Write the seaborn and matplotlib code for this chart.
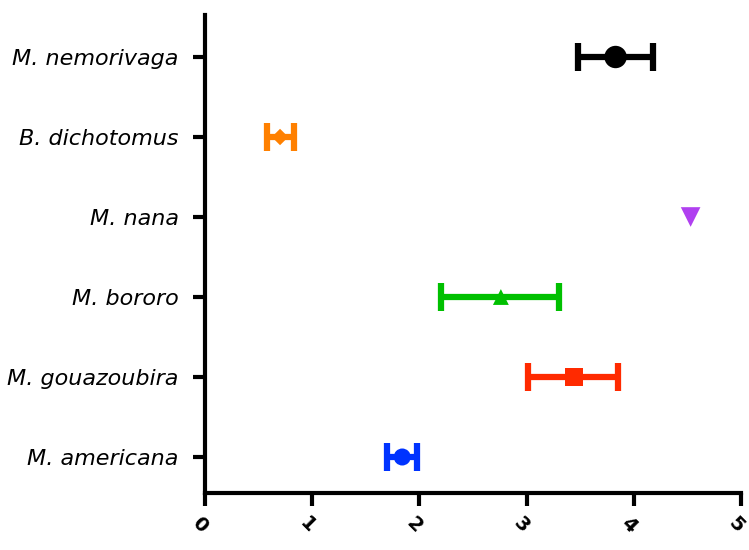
import matplotlib
matplotlib.use("Agg")
import matplotlib.pyplot as plt
import matplotlib.transforms as mtransforms
import seaborn as sns
import pandas as pd
import numpy as np

species = ["M. nemorivaga", "B. dichotomus", "M. nana", "M. bororo",
           "M. gouazoubira", "M. americana"]
means = [3.83, 0.70, 4.53, 2.76, 3.44, 1.84]
lower = [3.48, 0.58, 4.53, 2.20, 3.01, 1.70]
upper = [4.18, 0.83, 4.53, 3.30, 3.85, 1.98]
colors = ["#000000", "#FF8000", "#B040F0", "#00C000", "#FF2A00", "#0033FF"]
markers = ["o", "D", "v", "^", "s", "o"]
msizes = [260, 70, 200, 130, 170, 150]
x_ticks = [0, 1, 2, 3, 4, 5]

df = pd.DataFrame({"species": species, "mean": means,
                   "lower": lower, "upper": upper})

sns.set_style("ticks", {"axes.edgecolor": "black", "xtick.color": "black",
                        "ytick.color": "black", "text.color": "black"})
plt.rcParams["font.family"] = ["DejaVu Sans"]

fig = plt.figure(figsize=(7.49, 5.5), dpi=100)
ax = fig.add_axes([205 / 749, 1 - 493 / 550, (741 - 205) / 749, (493 - 15) / 550])

pos = np.arange(len(species))
for i, row in df.iterrows():
    if row["upper"] > row["lower"]:
        ax.errorbar(row["mean"], i,
                    xerr=[[row["mean"] - row["lower"]], [row["upper"] - row["mean"]]],
                    fmt="none", ecolor=colors[i], elinewidth=4.5,
                    capsize=10, capthick=4.5, zorder=2)

sns.scatterplot(data=df, x="mean", y=pos, hue="species", style="species",
                palette=dict(zip(species, colors)),
                markers=dict(zip(species, markers)),
                size="species", sizes=dict(zip(species, msizes)),
                edgecolor="none", legend=False, ax=ax, zorder=3)

ax.set_xlim(0, 5)
ax.set_ylim(5.45, -0.525)
ax.set_xticks(x_ticks)
ax.set_xticklabels([])
ax.set_yticks(pos)
ax.set_yticklabels(species, fontsize=16, style="italic", color="black")
ax.set_xlabel("")
ax.set_ylabel("")

# rotated x tick labels, set just below the tick marks
trans = mtransforms.blended_transform_factory(ax.transData, ax.transAxes)
trans = trans + mtransforms.ScaledTranslation(-5 / 100, -20 / 100, fig.dpi_scale_trans)
for t in x_ticks:
    ax.text(t, 0, str(t), transform=trans, rotation=-45, ha="center", va="top",
            fontsize=14, fontweight="bold", color="black")

for s in ["left", "bottom"]:
    ax.spines[s].set_linewidth(3)
    ax.spines[s].set_color("black")
sns.despine(ax=ax)
ax.tick_params(axis="both", width=3, length=9, pad=5, colors="black")
ax.tick_params(axis="y", pad=10)

fig.savefig("out.png", dpi=100)
